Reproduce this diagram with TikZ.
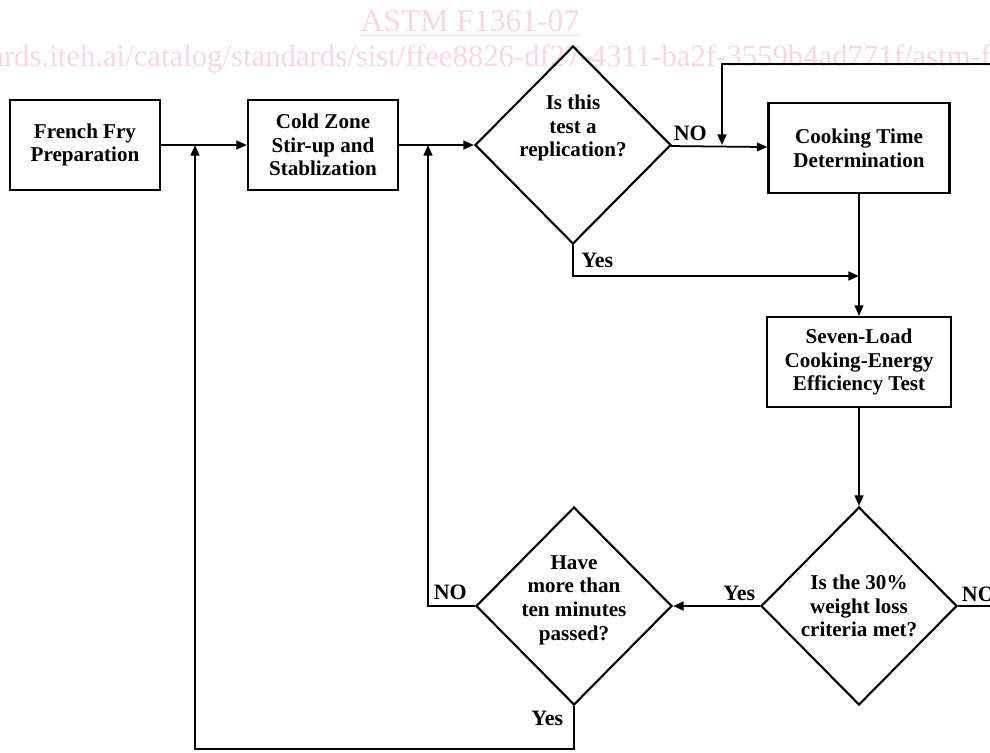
\documentclass[tikz,border=0pt]{standalone}
\usepackage{fontspec}
\setmainfont{Liberation Serif}
\usetikzlibrary{shapes.geometric,arrows.meta}
\definecolor{wmpink}{RGB}{250,214,224}
\begin{document}
	\begin{tikzpicture}
		[x=0.02cm, y=-0.02cm,
		procbox/.style = {shape=rectangle, draw, line width=1.3pt, align=center, minimum width=3cm, minimum height=1.8cm, font=\fontsize{12}{13.5}\selectfont\bfseries},
		decision/.style = {shape=diamond, draw, line width=1.2pt, inner sep=0pt, minimum width=3.92cm, minimum height=3.96cm},
		dtext/.style = {align=center, inner sep=0pt, font=\fontsize{12}{13.5}\selectfont\bfseries},
		answer/.style = {inner sep=0pt, font=\fontsize{12.5}{14}\selectfont\bfseries},
		flow/.style = {line width=1pt, -{Triangle[length=6pt,width=5pt]}},
		watermark/.style = {text=wmpink, inner sep=0pt}]
		\useasboundingbox (0,0) rectangle (990,752);
		\clip (0,0) rectangle (990,752);
		\node[watermark,font=\fontsize{18}{20}\selectfont,name=astm] at (470,21) {ASTM F1361-07};
		\draw[wmpink, line width=0.8pt] ([yshift=-2pt]astm.south west) -- ([yshift=-2pt]astm.south east);
		\node[watermark,font=\fontsize{17.5}{19}\selectfont,anchor=base west,name=url] at (-10,66) {ards.iteh.ai/catalog/standards/sist/ffee8826-df27-4311-ba2f-3559b4ad771f/astm-f};
		\node[procbox,name=prep] at (85,145) {French Fry\\Preparation};
		\node[procbox,name=stir] at (323,145) {Cold Zone\\Stir-up and\\Stablization};
		\node[decision,name=repl,label={[dtext,yshift=0.34cm]center:Is this\\test a\\replication?}] at (573,145) {};
		\node[procbox,name=cook,minimum width=3.62cm] at (859,148) {Cooking Time\\Determination};
		\node[procbox,name=seven,minimum width=3.68cm] at (859,362) {Seven-Load\\Cooking-Energy\\Efficiency Test};
		\node[decision,name=crit,label={[dtext]center:Is the 30\%\\weight loss\\criteria met?}] at (859,606) {};
		\node[decision,name=pass,label={[dtext,yshift=0.12cm]center:Have\\more than\\ten minutes\\passed?}] at (574,606) {};
		\coordinate (j1) at (195,145);
		\coordinate (j2) at (428,145);
		\coordinate (j3) at (722,145);
		\coordinate (j4) at (859,276);
		\coordinate (j5) at (195,749);
		\coordinate (fb) at (1000,64);
		\coordinate (out) at (1000,606);
		\draw[flow] (prep) -- (stir);
		\draw[flow] (stir) -- (repl);
		\draw[flow] (repl) -- node[answer,pos=0.2,above=0.09cm] {NO} (cook);
		\draw[flow] (fb) -| (j3);
		\draw[flow] (repl.south) |- node[answer,pos=0.5,above right=0.15cm] {Yes} (j4);
		\draw[flow] (cook) -- (seven);
		\draw[flow] (seven) -- (crit);
		\draw[flow] (crit) -- node[answer,pos=0,above left=0.08cm] {Yes} (pass);
		\draw[line width=1pt] (crit.east) -- node[answer,pos=0,above right=0.06cm] {NO} (out);
		\draw[flow] (pass.west) -| node[answer,pos=0.5,above right=0.1cm] {NO} (j2);
		\draw[flow] (pass.south) |- node[answer,pos=0,anchor=north east,xshift=-0.2cm,yshift=-0.08cm] {Yes} (j5) -- (j1);
	\end{tikzpicture}
\end{document}
